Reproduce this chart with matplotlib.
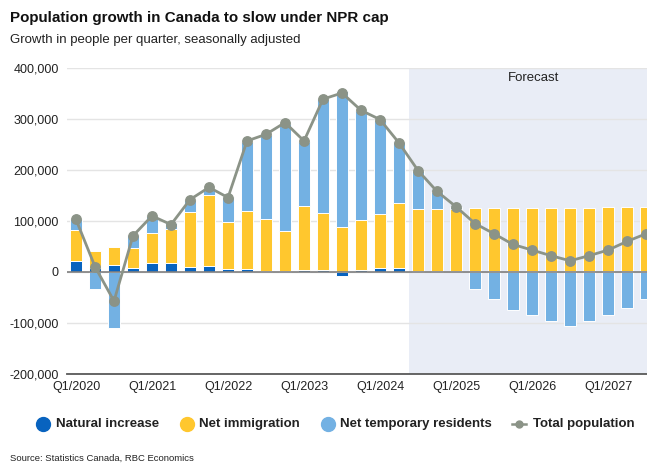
import matplotlib
matplotlib.use("Agg")
import matplotlib.pyplot as plt
import numpy as np
from matplotlib.lines import Line2D
from matplotlib.ticker import FuncFormatter

plt.rcParams["font.family"] = ["Liberation Sans", "DejaVu Sans"]

# quarterly growth, thousands of people, Q1/2020 .. Q3/2027
natural = [22, 8, 14.5, 8.5, 17, 17, 10.5, 12.5, 5, 6.5, 1.5, 2.5, 4.5, 4.5, -8, 4.5,
           8.5, 8.5, 2.5, 2.5, 2.5, 2.5, 2.5, 2.5, 2.5, 2.5, 2.5, 2.5, 2.5, 2.5, 2.5]
immigration = [61, 33, 35.5, 39.5, 59, 67, 108, 139, 94, 113, 103, 78, 125, 111, 89, 97,
               105, 127, 122, 122, 122, 123, 123, 123, 123, 123, 123, 123, 124, 124, 124]
npr = [20, -33, -109, 24, 33, 12, 23, 12, 48, 135, 165, 210, 125, 223, 266, 215,
       185, 119, 73, 33, 2, -33, -53, -74, -85, -97, -106, -97, -85, -71, -53]
total = [103, 10.5, -57, 71, 110, 93, 142, 166, 146, 257, 270, 293, 257, 339, 351, 317,
         299, 253, 199, 158, 128, 95, 75, 54, 43, 32, 22, 32, 43, 60, 75]

tick_labels = ["Q1/2020", "Q1/2021", "Q1/2022", "Q1/2023", "Q1/2024",
               "Q1/2025", "Q1/2026", "Q1/2027"]
forecast_start = 18  # first forecast quarter (Q3/2024)

C_NAT = "#0863BF"
C_IMM = "#FFC72E"
C_NPR = "#73B1E3"
C_TOT = "#8B9387"
C_FC = "#E9EDF6"

series = [np.array(natural) * 1000, np.array(immigration) * 1000, np.array(npr) * 1000]
colors = [C_NAT, C_IMM, C_NPR]
x = np.arange(len(natural))

fig = plt.figure(figsize=(6.47, 4.63), dpi=100)
ax = fig.add_axes([66.5 / 647, 89 / 463, 1 - 66.5 / 647, 306 / 463])

ax.axvspan(forecast_start - 0.5, 40, color=C_FC, zorder=0, lw=0)

# stack positives upward and negatives downward, like a spreadsheet chart
pos = np.zeros(len(x))
neg = np.zeros(len(x))
for vals, c in zip(series, colors):
    bottom = np.where(vals >= 0, pos, neg)
    ax.bar(x, vals, bottom=bottom, width=0.64, color=c, edgecolor="white",
           linewidth=0.7, zorder=2)
    pos = pos + np.clip(vals, 0, None)
    neg = neg + np.clip(vals, None, 0)

ax.axhline(0, color="#7F7F7F", lw=1.2, zorder=3)
ax.plot(x, np.array(total) * 1000, color=C_TOT, lw=2, marker="o", ms=6.8, zorder=4)

ax.set_ylim(-200000, 400000)
ax.set_xlim(-0.5, len(x) - 1 + 0.05)
ax.set_yticks(np.arange(-200000, 400001, 100000))
ax.yaxis.set_major_formatter(FuncFormatter(lambda v, p: f"{v:,.0f}"))
ax.set_xticks(np.arange(0, len(x), 4))
ax.set_xticklabels(tick_labels)
ax.tick_params(axis="both", length=0, labelsize=9, colors="#222222")
ax.tick_params(axis="y", pad=5.5)
ax.tick_params(axis="x", pad=5)
ax.grid(axis="y", color="#E4E4E4", lw=1, zorder=1)
ax.set_axisbelow(True)
for s in ["left", "right", "top"]:
    ax.spines[s].set_visible(False)
ax.spines["bottom"].set_color("#595959")
ax.spines["bottom"].set_linewidth(1.3)

ax.text(24.1, 381000, "Forecast", ha="center", va="center", fontsize=9.5, color="#222222")

fig.text(10 / 647, 1 - 18 / 463, "Population growth in Canada to slow under NPR cap",
         fontsize=10.9, fontweight="bold", va="center", ha="left", color="#111111")
fig.text(10 / 647, 1 - 40 / 463, "Growth in people per quarter, seasonally adjusted",
         fontsize=9.5, va="center", ha="left", color="#222222")
fig.text(10 / 647, 1 - 458 / 463, "Source: Statistics Canada, RBC Economics",
         fontsize=6.8, va="center", ha="left", color="#222222")

# legend row
ly = 1 - 424 / 463
entries = [(43, 56, C_NAT, "Natural increase", False),
           (187, 199, C_IMM, "Net immigration", False),
           (328, 340, C_NPR, "Net temporary residents", False),
           (519, 533, C_TOT, "Total population", True)]
for mx, tx, c, label, is_line in entries:
    if is_line:
        fig.add_artist(Line2D([(mx - 7) / 647, (mx + 7) / 647], [ly, ly], color=c, lw=1.8,
                              transform=fig.transFigure))
        fig.add_artist(Line2D([mx / 647], [ly], color=c, marker="o", ms=5,
                              transform=fig.transFigure))
    else:
        fig.add_artist(Line2D([mx / 647], [ly], color=c, marker="o", ms=10,
                              lw=0, transform=fig.transFigure))
    fig.text(tx / 647, ly, label, fontsize=9.5, fontweight="bold", va="center",
             ha="left", color="#222222")

fig.savefig("out.png", dpi=100)
